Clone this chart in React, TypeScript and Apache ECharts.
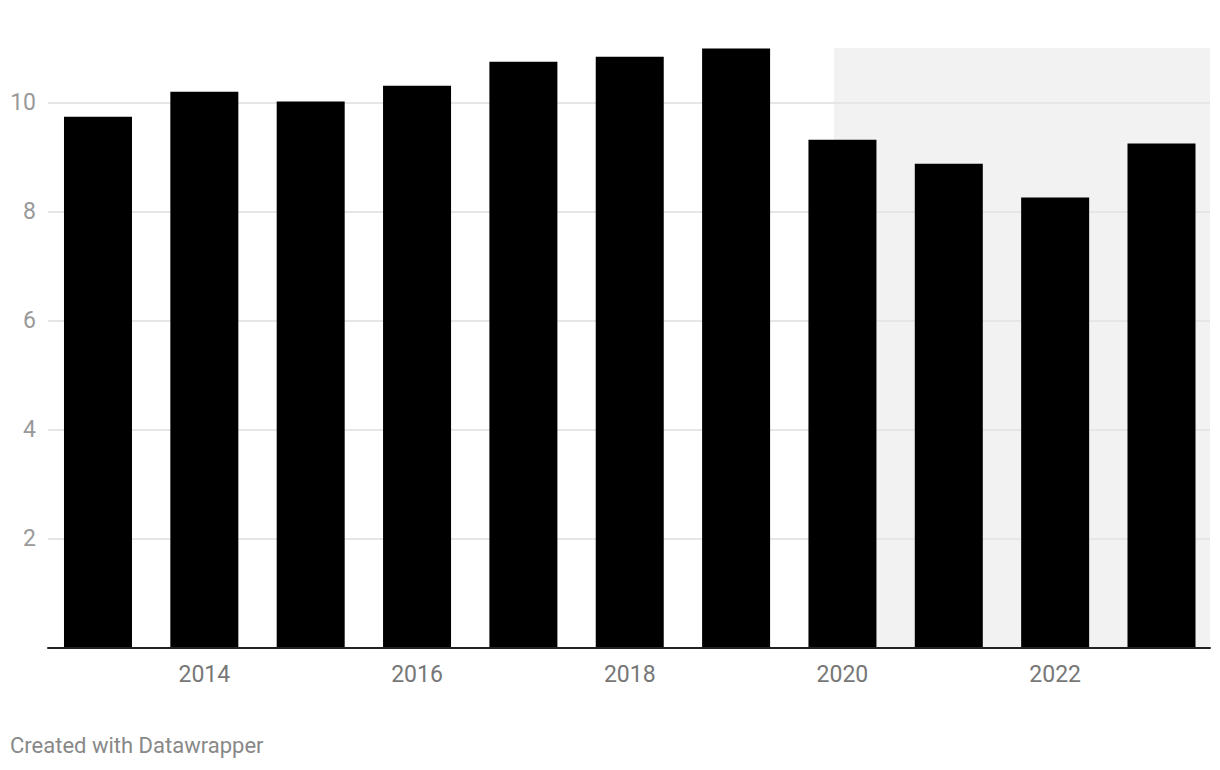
import React, { useEffect, useRef } from "react";
import * as echarts from "echarts";

const years = [2013, 2014, 2015, 2016, 2017, 2018, 2019, 2020, 2021, 2022, 2023];
const values = [9.74, 10.2, 10.02, 10.31, 10.75, 10.84, 10.99, 9.32, 8.88, 8.26, 9.25];
const xTickLabels = [2014, 2016, 2018, 2020, 2022];
const shadeStart = 2019.92;
const xMin = 2012.53;
const xMax = 2023.456;
const footer = "Created with Datawrapper";

export default function App() {
  const ref = useRef<HTMLDivElement>(null);
  useEffect(() => {
    if (!ref.current) return;
    const chart = echarts.init(ref.current, undefined, { renderer: "svg" });
    chart.setOption({
      animation: false,
      textStyle: { fontFamily: "Roboto" },
      grid: { left: 48, top: 48, width: 1162, height: 600, containLabel: false },
      xAxis: {
        type: "value",
        min: xMin,
        max: xMax,
        z: 5,
        splitLine: { show: false },
        axisLine: { show: true, onZero: false, lineStyle: { color: "#222", width: 2 } },
        axisTick: { show: false },
        axisLabel: {
          customValues: xTickLabels,
          formatter: (v: number) => String(v),
          color: "#777",
          fontSize: 23,
          margin: 15,
          fontFamily: "Roboto",
        },
      },
      yAxis: {
        type: "value",
        min: 0,
        max: 11,
        interval: 2,
        z: 2,
        axisLine: { show: false },
        axisTick: { show: false },
        splitLine: {
          show: true,
          showMinLine: false,
          showMaxLine: false,
          lineStyle: { color: "#e6e6e6", width: 2 },
        },
        axisLabel: {
          showMinLabel: false,
          showMaxLabel: false,
          color: "#999",
          fontSize: 23,
          margin: 12,
          fontFamily: "Roboto",
        },
      },
      series: [
        {
          type: "line",
          data: [],
          z: 1,
          silent: true,
          markArea: {
            silent: true,
            itemStyle: { color: "#f2f2f2" },
            data: [[{ xAxis: shadeStart }, { xAxis: xMax }]],
          },
        },
        {
          type: "bar",
          z: 3,
          barWidth: 68,
          itemStyle: { color: "#000" },
          data: years.map((y, i) => [y, values[i]]),
        },
      ],
      graphic: [
        {
          type: "text",
          left: 10,
          top: 734,
          style: { text: footer, fill: "#888", fontSize: 22, fontFamily: "Roboto" },
        },
      ],
    });
    return () => chart.dispose();
  }, []);
  return <div ref={ref} style={{ width: 1220, height: 770, position: "absolute", left: 0, top: 0 }} />;
}
